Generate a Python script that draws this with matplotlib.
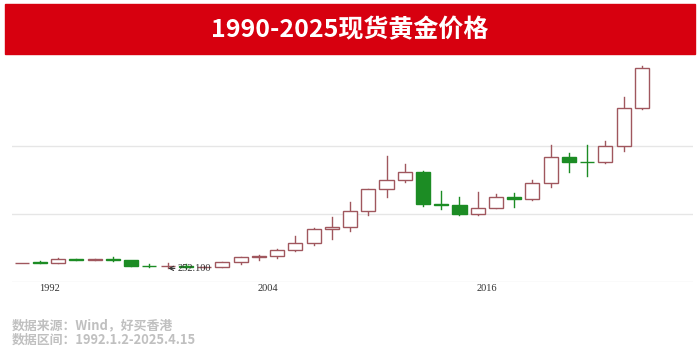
import matplotlib.pyplot as plt
import matplotlib.patches as mpatches

plt.rcParams['font.family'] = ['Noto Sans CJK SC', 'DejaVu Sans']

# --- Données : bougies annuelles de l'or spot (USD/oz) ---
years = list(range(1991, 2026))
opens = [330, 353, 333, 391, 383, 387, 369, 290, 288, 290, 273, 279, 348, 416, 438,
         517, 632, 834, 870, 1096, 1421, 1566, 1675, 1204, 1184, 1061, 1151, 1303,
         1282, 1517, 1898, 1829, 1824, 2063, 2624]
highs = [334, 360, 406, 397, 396, 416, 367, 313, 326, 317, 294, 349, 417, 456, 538,
         730, 842, 1011, 1227, 1431, 1920, 1796, 1696, 1392, 1308, 1375, 1357, 1366,
         1557, 2075, 1959, 2070, 2135, 2790, 3245]
lows = [326, 330, 326, 370, 372, 367, 283, 273, 252.1, 263, 256, 277, 320, 374, 411,
        513, 603, 681, 802, 1045, 1308, 1527, 1180, 1131, 1046, 1046, 1146, 1160,
        1266, 1451, 1677, 1615, 1805, 1984, 2614]
closes = [332, 333, 391, 383, 387, 369, 290, 288, 290, 273, 279, 348, 416, 438, 517,
          632, 834, 870, 1096, 1421, 1563, 1675, 1204, 1184, 1061, 1151, 1303, 1282,
          1517, 1898, 1829, 1824, 2063, 2624, 3210]
label_years = [1992, 2004, 2016]
grid_levels = [55, 1055, 2055]
min_label = '252.100'

RED_BAR = '#D7000F'
UP_EDGE = '#A0575E'
DOWN = '#1C8C24'

fig = plt.figure(figsize=(7, 3.52), dpi=100)

# bandeau titre
fig.patches.append(mpatches.Rectangle((5 / 700, 1 - 54 / 352), 690 / 700, 50 / 352,
                                      transform=fig.transFigure, color=RED_BAR, zorder=0))
fig.text(0.5, 1 - 30 / 352, '1990-2025现货黄金价格', ha='center', va='center',
         color='white', fontsize=18, fontweight='bold')

ax = fig.add_axes([12 / 700, 1 - 281.7 / 352, 681 / 700, 223.7 / 352])
ax.set_xlim(-0.53, 36.8)
ax.set_ylim(55, 3364)

for lv in grid_levels:
    ax.axhline(lv, color='#E6E6E6', lw=1, zorder=0)

w = 0.77
for i in range(len(years)):
    o, h, l, c = opens[i], highs[i], lows[i], closes[i]
    up = c >= o
    col = UP_EDGE if up else DOWN
    ax.plot([i, i], [l, h], color=col, lw=1, zorder=1)
    ax.add_patch(mpatches.Rectangle((i - w / 2, min(o, c)), w, max(abs(c - o), 4),
                                    facecolor='white' if up else DOWN,
                                    edgecolor=col, lw=1, zorder=2))

# point bas
i_min = lows.index(min(lows))
ax.annotate(min_label, xy=(i_min + 0.03, lows[i_min]), xytext=(i_min + 0.55, lows[i_min]),
            ha='left', va='center', fontsize=7.5, family='Liberation Serif', color='#333333',
            arrowprops=dict(arrowstyle='->', color='#333333', lw=0.8,
                            shrinkA=0, shrinkB=0))

ax.set_xticks([years.index(y) + 0.5 for y in label_years])
ax.set_xticklabels([str(y) for y in label_years], family='Liberation Serif',
                   fontsize=7.5, color='#333333')
ax.tick_params(axis='x', length=0, pad=2)
ax.set_yticks([])
for s in ax.spines.values():
    s.set_visible(False)

fig.text(12 / 700, 1 - 325 / 352, '数据来源：Wind，好买香港', ha='left', va='center',
         color='#C0C0C0', fontsize=9.3, fontweight='bold')
fig.text(12 / 700, 1 - 340 / 352, '数据区间：1992.1.2-2025.4.15', ha='left', va='center',
         color='#C0C0C0', fontsize=9.3, fontweight='bold')

plt.savefig('out.png', dpi=100)
